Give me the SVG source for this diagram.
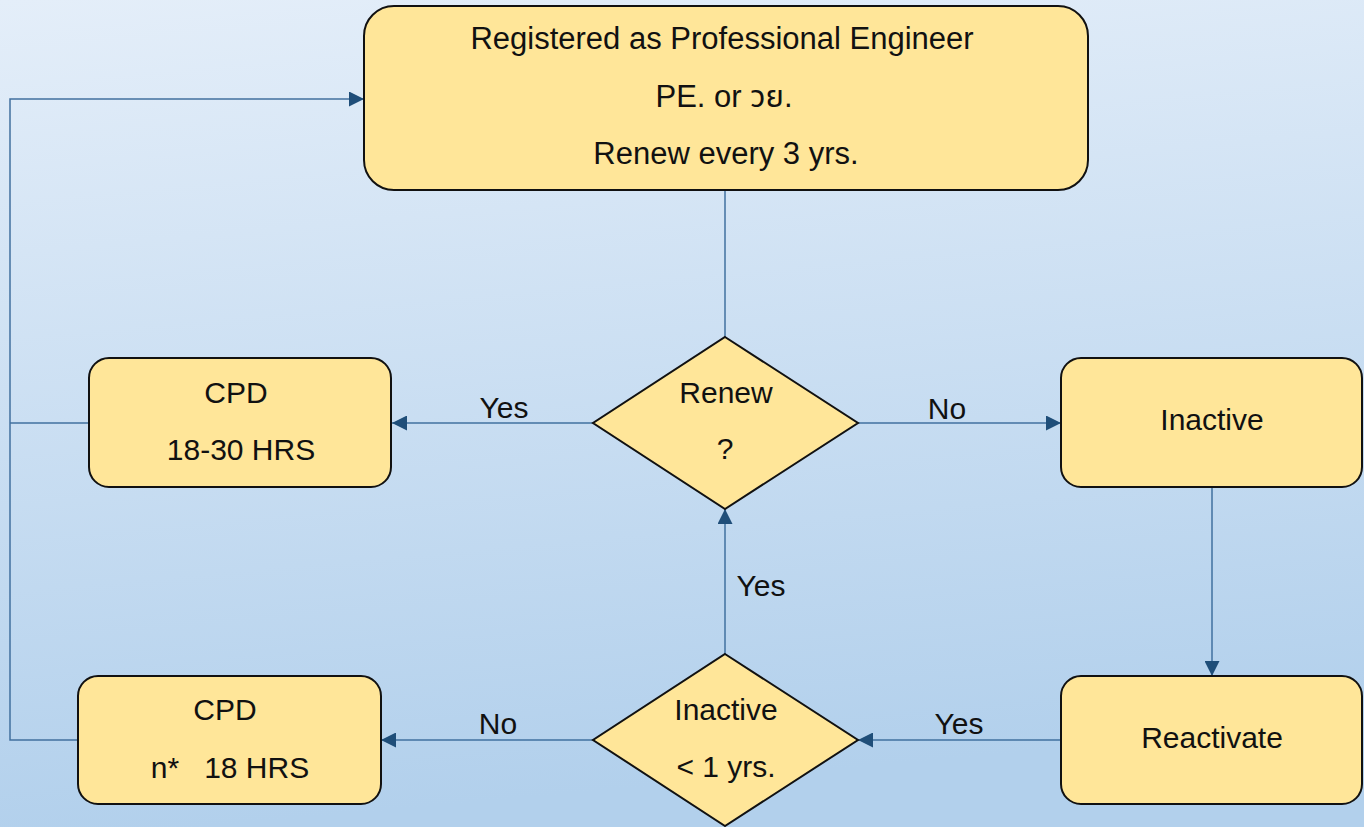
<svg xmlns="http://www.w3.org/2000/svg" width="1364" height="827" viewBox="0 0 1364 827">
  <defs>
    <linearGradient id="bg" x1="0" y1="0" x2="0.15" y2="1">
      <stop offset="0" stop-color="#e4eef9"/>
      <stop offset="1" stop-color="#b2d0ec"/>
    </linearGradient>
    <marker id="arrow" viewBox="0 0 16 16" refX="16" refY="8" markerWidth="15" markerHeight="15" markerUnits="userSpaceOnUse" orient="auto">
      <path d="M0,0 L16,8 L0,16 Z" fill="#1f4e79"/>
    </marker>
    <style>
      .box { fill: #ffe699; stroke: #111111; stroke-width: 2; }
      .txt { font-family: "Liberation Sans", Arial, "Noto Sans Thai", "Noto Sans", sans-serif; font-size: 30px; fill: #111111; text-anchor: middle; white-space: pre; }
      .big { font-size: 31px; }
      .wire { fill: none; stroke: #41709f; stroke-width: 1.5; }
      .arr { marker-end: url(#arrow); }
    </style>
  </defs>

  <rect x="0" y="0" width="1364" height="827" fill="url(#bg)"/>

  <!-- connectors -->
  <g id="connectors">
    <path class="wire" d="M725,190 L725,337"/>
    <path class="wire arr" d="M593,423 L392,423"/>
    <path class="wire arr" d="M858,423 L1061,423"/>
    <path class="wire arr" d="M1212,487 L1212,676"/>
    <path class="wire arr" d="M1061,740 L858,740"/>
    <path class="wire arr" d="M593,740 L381,740"/>
    <path class="wire arr" d="M725,654 L725,509"/>
    <path class="wire" d="M89,423 L10,423"/>
    <path class="wire arr" d="M78,740 L10,740 L10,99 L364,99"/>
    <text class="txt" x="504" y="418">Yes</text>
    <text class="txt" x="947" y="419">No</text>
    <text class="txt" x="959" y="734">Yes</text>
    <text class="txt" x="498" y="734">No</text>
    <text class="txt" x="761" y="596">Yes</text>
  </g>

  <!-- registration -->
  <g id="registered">
    <rect class="box" x="364" y="6" width="724" height="184" rx="30"/>
    <text class="txt big" x="722" y="49">Registered as Professional Engineer</text>
    <text class="txt big" x="724" y="107">PE. or วย.</text>
    <text class="txt big" x="726" y="164">Renew every 3 yrs.</text>
  </g>

  <g id="cpd-renew">
    <rect class="box" x="89" y="358" width="302" height="129" rx="20"/>
    <text class="txt" x="236" y="403">CPD</text>
    <text class="txt" x="241" y="460">18-30 HRS</text>
  </g>

  <g id="renew-decision">
    <polygon class="box" points="725,337 858,423 725,509 593,423"/>
    <text class="txt" x="726" y="403">Renew</text>
    <text class="txt" x="725" y="459">?</text>
  </g>

  <g id="inactive">
    <rect class="box" x="1061" y="358" width="301" height="129" rx="20"/>
    <text class="txt" x="1212" y="430">Inactive</text>
  </g>

  <g id="reactivate">
    <rect class="box" x="1061" y="676" width="301" height="128" rx="20"/>
    <text class="txt" x="1212" y="748">Reactivate</text>
  </g>

  <g id="inactive-decision">
    <polygon class="box" points="725,654 858,740 725,826 593,740"/>
    <text class="txt" x="726" y="720">Inactive</text>
    <text class="txt" x="726" y="777">&lt; 1 yrs.</text>
  </g>

  <g id="cpd-reactivate">
    <rect class="box" x="78" y="676" width="303" height="128" rx="20"/>
    <text class="txt" x="225" y="720">CPD</text>
    <text class="txt" x="230" y="778" xml:space="preserve">n*   18 HRS</text>
  </g>
</svg>
